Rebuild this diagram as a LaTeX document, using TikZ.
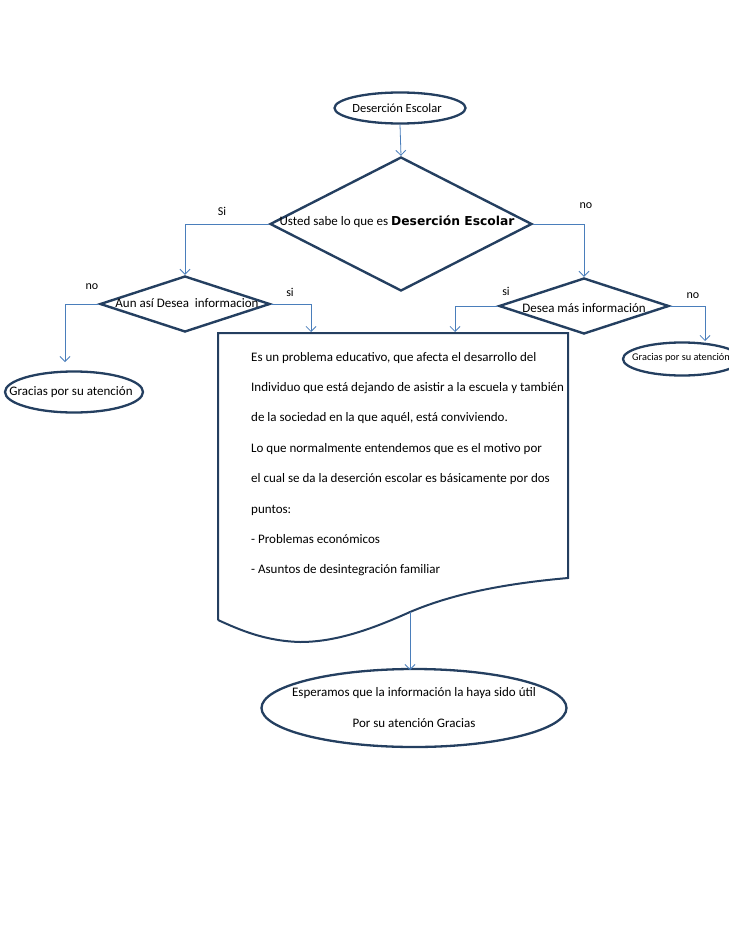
\documentclass[tikz,border=0pt]{standalone}
\usepackage{fontspec}
\setmainfont{Carlito}
\newfontfamily\boldfam{DejaVu Sans}
\usetikzlibrary{shapes.geometric,arrows.meta}
\definecolor{navy}{HTML}{243F60}
\definecolor{connc}{HTML}{4A7EBB}
\tikzset{
  term/.style={ellipse, draw=navy, line width=2.3pt, inner sep=0pt},
  decis/.style={diamond, draw=navy, line width=2.4pt, inner sep=0pt},
  docbox/.style={draw=navy, line width=2pt},
  flow/.style={draw=connc, line width=0.8pt, -{Straight Barb[length=5pt,width=10pt]}},
  txt/.style={font=\fontsize{13}{15}\selectfont, inner sep=0pt},
  toptext/.style={font=\fontsize{12.5}{14}\selectfont, inner sep=0pt},
  lbl/.style={font=\fontsize{12}{14}\selectfont, inner sep=0pt},
  small/.style={font=\fontsize{10.3}{12}\selectfont, inner sep=0pt}
}
\begin{document}
\begin{tikzpicture}[x=1pt,y=-1pt]
\useasboundingbox (0,0) rectangle (728,942);
% terminals
\node[term, minimum width=131pt, minimum height=31pt] (top) at (400,108) {};
\node[toptext] (toptxt) at (397,108) {Deserción Escolar};
\node[term, minimum width=138pt, minimum height=41pt] (gl) at (74,392) {};
\node[txt] (gltxt) at (71,392) {Gracias por su atención};
\node[term, minimum width=118pt, minimum height=33pt] (gr) at (682,359) {};
\node[small] (grtxt) at (681,358) {Gracias por su atención};
\node[term, minimum width=305pt, minimum height=78pt] (bot) at (414,708) {};
\node[txt] (bot1) at (414,693) {Esperamos que la información la haya sido útil};
\node[txt] (bot2) at (414,723) {Por su atención Gracias};
% decisions
\node[decis, minimum width=262pt, minimum height=134pt] (d1) at (401,224) {};
\node[txt] (d1txt) at (397,222) {Usted sabe lo que es {\boldfam\bfseries\fontsize{12.3}{14}\selectfont Deserción Escolar}};
\node[decis, minimum width=170pt, minimum height=56pt] (d2) at (185,304) {};
\node[txt] (d2txt) at (187,303) {Aun así Desea\ \ informacion};
\node[decis, minimum width=170pt, minimum height=56pt] (d3) at (584,306) {};
\node[txt] (d3txt) at (584,308) {Desea más información};
% document shape
\coordinate (dTL) at (218,333);
\coordinate (dTR) at (568,333);
\coordinate (dBR) at (568,578);
\coordinate (dBM) at (410,612);
\coordinate (dBL) at (218,620);
\draw[docbox] (dBL) -- (dTL) -- (dTR) -- (dBR)
  .. controls (500,584) and (450,595) .. (dBM)
  .. controls (370,630) and (335,642) .. (300,642)
  .. controls (265,641) and (240,630) .. (dBL);
\foreach \i/\t in {0/{Es un problema educativo, que afecta el desarrollo del},
  1/{Individuo que está dejando de asistir a la escuela y también},
  2/{de la sociedad en la que aquél, está conviviendo.},
  3/{Lo que normalmente entendemos que es el motivo por},
  4/{el cual se da la deserción escolar es básicamente por dos},
  5/{puntos:},
  6/{- Problemas económicos},
  7/{- Asuntos de desintegración familiar}}
  \node[txt, anchor=base west] (line\i) at (251,{361+30.4*\i}) {\t};
% connector end points
\coordinate (eSiL) at (311,332);
\coordinate (eSiR) at (455,332);
\coordinate (eNoL) at (65,362);
\coordinate (eNoR) at (705,341);
\coordinate (eBot) at (410,670);
% connectors
\draw[flow] (top.south) -- (d1.north);
\draw[flow] (d1.west) -| (d2.north);
\draw[flow] (d1.east) -| (d3.north);
\draw[flow] (d2.west) -| (eNoL);
\draw[flow] (d2.east) -| (eSiL);
\draw[flow] (d3.west) -| (eSiR);
\draw[flow] (d3.east) -| (eNoR);
\draw[flow] (dBM) -- (eBot);
% labels
\node[lbl] (lSi) at (222,211) {Si};
\node[lbl] (lNo1) at (586,206) {no};
\node[lbl] (lNo2) at (92,287) {no};
\node[lbl] (lSi2) at (290,292) {si};
\node[lbl] (lSi3) at (506,291) {si};
\node[lbl] (lNo3) at (693,296) {no};
\end{tikzpicture}
\end{document}
